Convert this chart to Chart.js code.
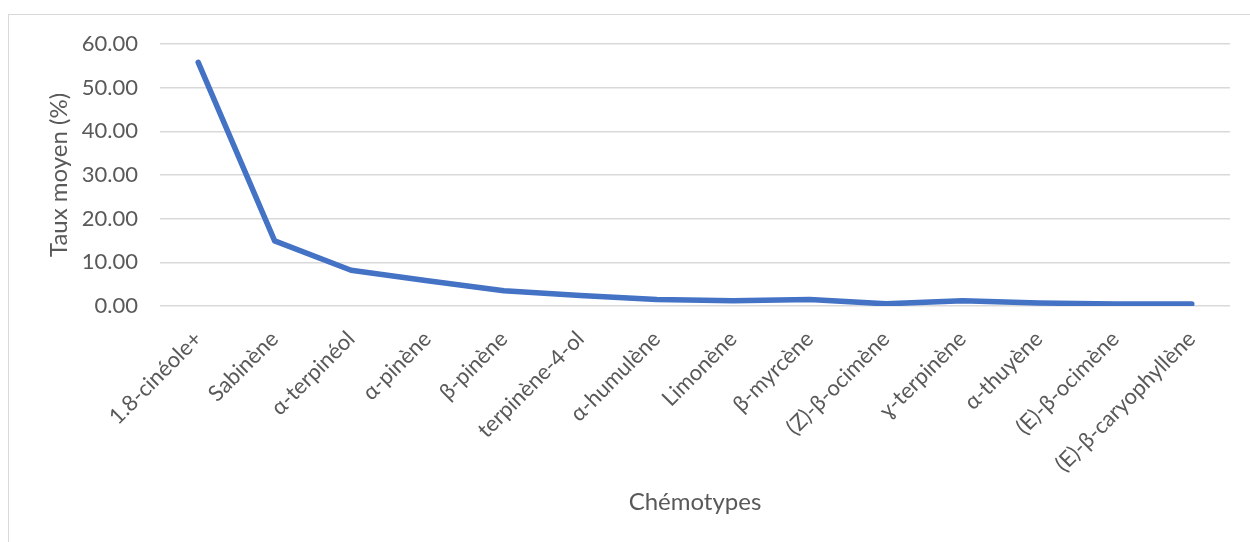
<!DOCTYPE html>
<html>
<head>
<meta charset="utf-8">
<title>Taux moyen par chémotype</title>
<script src="https://cdn.jsdelivr.net/npm/chart.js@4.4.1/dist/chart.umd.min.js"></script>
<style>
  html, body { margin: 0; padding: 0; background: #fff; overflow: hidden; }
  #frame {
    position: absolute; left: 8px; top: 14px; width: 1300px; height: 600px;
    border-left: 1px solid #d9d9d9; border-top: 1px solid #d9d9d9;
  }
  #wrap { position: absolute; left: 0; top: 0; width: 1250px; height: 542px; }
</style>
</head>
<body>
<div id="frame"></div>
<div id="wrap"><canvas id="chart"></canvas></div>
<script>
// categories and mean rates (%)
const chemotypes = [
  '1.8-cinéole+', 'Sabinène', 'α-terpinéol', 'α-pinène', 'β-pinène',
  'terpinène-4-ol', 'α-humulène', 'Limonène', 'β-myrcène', '(Z)-β-ocimène',
  'ɣ-terpinène', 'α-thuyène', '(E)-β-ocimène', '(E)-β-caryophyllène'
];
const tauxMoyen = [55.8, 14.9, 8.2, 5.8, 3.5, 2.4, 1.5, 1.2, 1.5, 0.5, 1.2, 0.7, 0.45, 0.45];
const yTicks = [0, 10, 20, 30, 40, 50, 60];

const grey = '#595959';
const font = 'Lato, "Open Sans", sans-serif';

const ctx = document.getElementById('chart').getContext('2d');
new Chart(ctx, {
  type: 'line',
  data: {
    labels: chemotypes,
    datasets: [{
      label: 'Taux moyen (%)',
      data: tauxMoyen,
      borderColor: '#4472C4',
      backgroundColor: '#4472C4',
      borderWidth: 5.5,
      borderCapStyle: 'round',
      borderJoinStyle: 'round',
      pointRadius: 0,
      tension: 0
    }]
  },
  options: {
    responsive: true,
    maintainAspectRatio: false,
    animation: false,
    layout: { padding: { left: 42, right: 20, top: 44, bottom: 25 } },
    plugins: { legend: { display: false }, tooltip: { enabled: false } },
    scales: {
      x: {
        offset: true,
        grid: { display: false, drawTicks: false },
        border: { display: false },
        ticks: {
          color: grey, font: { family: font, size: 22 },
          maxRotation: 45, minRotation: 45, autoSkip: false, padding: 20
        },
        title: {
          display: true, text: 'Chémotypes', color: grey,
          font: { family: font, size: 24 }, padding: 0
        },
        afterFit: s => { s.height = 211; }
      },
      y: {
        min: 0, max: 60,
        afterBuildTicks: s => { s.ticks = yTicks.map(v => ({ value: v })); },
        grid: { color: '#d9d9d9', lineWidth: 1.5, drawTicks: false },
        border: { display: false },
        ticks: {
          color: grey, font: { family: font, size: 22 }, padding: 22,
          callback: v => Number(v).toFixed(2)
        },
        title: {
          display: true, text: 'Taux moyen (%)', color: grey,
          font: { family: font, size: 24 }, padding: 3
        },
        afterFit: s => { s.width = 118; }
      }
    }
  }
});
</script>
</body>
</html>
